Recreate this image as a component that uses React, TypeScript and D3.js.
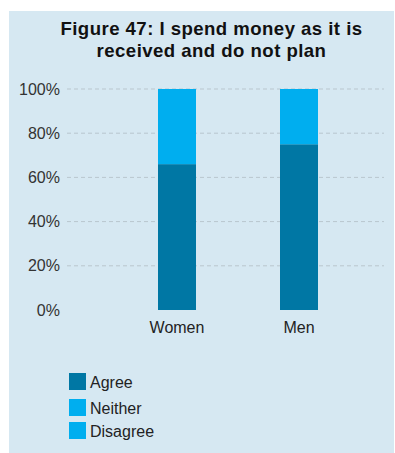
import React from "react";
import * as d3 from "d3";

const categories = ["Women", "Men"];
const seriesNames = ["Agree", "Neither", "Disagree"];
const agree = [66, 75];
const neither = [34, 25];
const disagree = [0, 0];
const colors = ["#0077a4", "#00aeef", "#00aeef"];
const yTicks = [0, 20, 40, 60, 80, 100];
const titleLines = ["Figure 47: I spend money as it is", "received and do not plan"];

const W = 395;
const H = 453;

export default function App() {
  const xc = d3.scalePoint<string>().domain(categories).range([177, 299]);
  const y = d3.scaleLinear().domain([0, 100]).range([310, 89]);
  const rows = categories.map((c, i) => ({ cat: c, Agree: agree[i], Neither: neither[i], Disagree: disagree[i] }));
  const stack = d3.stack<any>().keys(seriesNames)(rows);
  const barW = 38;
  const font = "'Liberation Sans', Arial, Helvetica, sans-serif";

  return (
    <svg width={W} height={H} style={{ position: "absolute", left: 0, top: 0 }} fontFamily={font}>
      <rect x={9} y={11} width={385} height={442} fill="#d6e8f2" />
      {titleLines.map((t, i) => (
        <text
          key={i}
          x={211.5}
          y={35 + i * 22}
          textAnchor="middle"
          fontWeight="bold"
          fontSize={18.6}
          letterSpacing={0.45}
          fill="#111"
        >
          {t}
        </text>
      ))}
      {yTicks.map((t) => (
        <g key={t}>
          {t > 0 && (
            <line x1={67} x2={384} y1={y(t)} y2={y(t)} stroke="#b9c6ce" strokeWidth={1} strokeDasharray="4,3" />
          )}
          <text x={60} y={y(t) + 5.5} textAnchor="end" fontSize={16} fill="#333">
            {t}%
          </text>
        </g>
      ))}
      {stack.map((s, si) =>
        s.map((d, i) => (
          <rect
            key={si + "-" + i}
            x={xc(categories[i])! - barW / 2}
            width={barW}
            y={y(d[1])}
            height={Math.max(0, y(d[0]) - y(d[1]))}
            fill={colors[si]}
          />
        ))
      )}
      {categories.map((c) => (
        <text key={c} x={xc(c)} y={333} textAnchor="middle" fontSize={16} fill="#222">
          {c}
        </text>
      ))}
      {seriesNames.map((n, i) => {
        const ly = [373, 399, 422][i];
        return (
          <g key={n}>
            <rect x={69} y={ly} width={17} height={17} fill={colors[i]} />
            <text x={90} y={ly + 15} fontSize={16} fill="#222">
              {n}
            </text>
          </g>
        );
      })}
    </svg>
  );
}
